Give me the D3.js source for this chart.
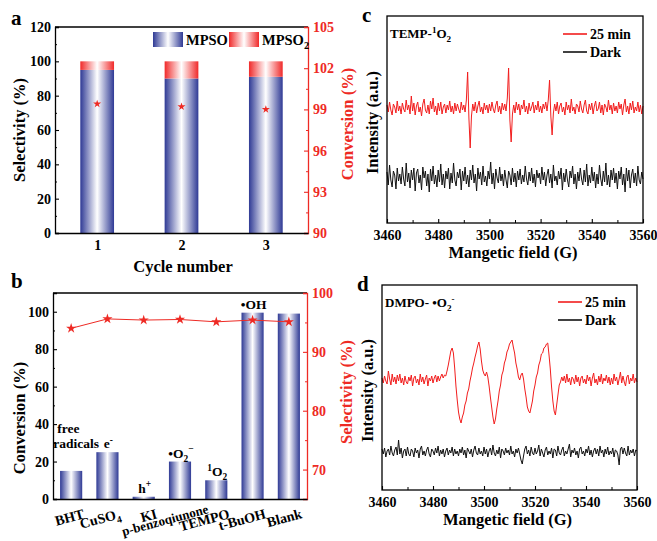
<!DOCTYPE html>
<html>
<head>
<meta charset="utf-8">
<script src="https://cdn.jsdelivr.net/npm/d3@7"></script>
<style>
  body { margin: 0; background: #fff; }
  svg { display: block; }
</style>
</head>
<body>
<svg id="chart" width="657" height="541"></svg>
<script>
// ---- Data ----

// a: recycling test
const cycles = [1, 2, 3];
const mpso = [95, 90, 91];          // selectivity to MPSO (%)
const mpso2 = [5, 10, 9];           // selectivity to MPSO2 (%)
const cycleConversion = [99.4, 99.2, 99.0];

// b: scavenger test
const scavengers = ["BHT", "CuSO_{4}", "KI", "p-benzoqiunone", "TEMPO", "t-BuOH", "Blank"];
const species = ["free|radicals", "e^{-}", "h^{+}", "•O_{2}^{−}", "^{1}O_{2}", "•OH", ""];
const scavConversion = [15, 25, 1.2, 20, 10, 99.5, 99];
const scavSelectivity = [94.0, 95.6, 95.4, 95.5, 95.1, 95.4, 95.1];

// c, d: EPR spectra, 3460 - 3560 G, equally spaced points (arb. units)
const fieldRange = [3460, 3560];
const fieldTicks = [3460, 3480, 3500, 3520, 3540, 3560];

const tempLight = [
  3,-4,6,-2,-7,4,1,-5,7,-3,2,-6,5,-1,-4,8,-2,3,-6,12,
  -3,5,-7,2,6,-4,1,-8,4,9,-2,-5,3,-6,7,-1,10,-4,2,-7,
  5,-3,6,-6,1,4,-5,3,-2,7,-4,2,-6,5,-3,4,-1,-5,6,-2,
  3,-4,8,36,-10,-40,-8,4,-3,6,-5,2,7,-4,1,-6,5,-2,3,-5,
  4,-3,6,-1,-5,3,7,-4,2,-6,5,-2,4,-3,10,40,-12,-34,-6,3,
  -5,6,-2,4,-7,3,-1,8,-4,2,-6,5,-3,1,6,-5,3,-2,7,-4,
  2,-5,4,-1,6,-3,8,28,-8,-27,-5,4,-3,6,-6,2,5,-4,1,-7,
  6,-2,3,-5,9,-3,1,-6,4,2,-4,7,-1,-5,3,8,-3,-6,4,-2,
  5,-6,2,7,-3,-1,6,-5,3,-7,4,1,-4,8,-2,3,-6,5,-3,2,
  -5,6,-1,4,-7,3,9,-4,2,-6,5,-2,7,-5,1,-3,6,-4,3,-6,
  2
];
const tempDark = [
  5,-8,12,-3,-10,6,2,-12,9,-4,3,-7,10,-2,-9,14,-5,4,-11,7,
  -3,9,-14,4,8,-6,2,-13,10,-1,6,-9,3,-15,8,-4,11,-7,2,-10,
  7,-5,13,-8,3,-11,6,-2,9,-12,4,-6,14,-3,-9,5,-1,8,-13,6,
  -4,10,-7,2,-10,7,-3,12,-6,3,-14,9,-2,5,-8,11,-5,1,-9,6,
  -2,15,-7,4,-12,8,-1,-6,10,-4,3,-9,7,-3,-11,6,2,-8,9,-5,
  4,-10,6,-3,8,-7,2,-5,11,-2,-8,5,-4,9,-6,3,-10,7,-1,4,
  -7,10,-3,5,-9,2,8,-6,3,-11,12,-4,1,-8,6,-2,9,-13,4,-5,
  8,-3,-10,6,-1,11,-7,3,-12,5,-4,9,-2,-8,7,-5,13,-9,2,-6,
  10,-4,5,-11,3,-7,12,-2,-9,6,-5,14,-8,2,-10,7,-3,9,-6,4,
  -12,6,-2,10,-8,3,-15,9,-4,7,-11,2,8,-6,4,-9,11,-3,-7,5,
  -2
];
const dmpoLight = [
  2,-3,4,-1,-4,9,1,-5,6,-2,3,-4,5,-1,6,-3,2,-5,4,-2,
  -4,3,-1,5,-6,2,4,-3,1,-5,6,-2,3,-4,1,5,-6,2,-1,4,
  -3,2,5,-2,4,-1,3,6,2,5,4,9,15,22,29,32,27,12,-6,-20,
  -32,-39,-43,-37,-33,-25,-21,-13,-9,-1,5,12,17,23,28,34,38,31,19,10,
  6,4,8,3,-6,-17,-27,-37,-44,-39,-29,-21,-11,-5,5,9,17,21,28,31,
  36,38,40,33,27,17,11,3,0,5,7,1,-9,-17,-27,-31,-33,-27,-21,-11,
  -5,3,7,15,19,26,27,32,33,36,37,25,11,-7,-21,-31,-35,-25,-15,-5,
  -2,3,-1,4,-3,6,-2,2,-5,3,1,-4,5,-2,3,-6,2,4,-3,1,
  -4,5,-1,3,-6,2,7,-3,1,-5,4,-2,6,-4,2,-1,5,-3,3,-5,
  2,-4,6,-1,3,-5,1,8,-3,4,-2,-6,3,5,-4,2,-1,6,-3,2,
  -2
];
const dmpoDark = [
  3,-2,4,-5,1,3,-3,6,-1,-4,2,5,-3,12,-2,4,-6,1,3,-4,
  5,-2,-4,3,1,-5,4,-1,2,-6,3,6,-3,1,-4,2,5,-2,-5,3,
  1,-3,4,-1,6,-4,2,-2,3,-5,1,4,-3,2,-1,5,-4,3,-2,1,
  -4,3,-1,5,-3,2,-6,4,1,-2,3,-5,2,6,-1,-3,4,-2,1,-4,
  5,-2,3,-5,1,4,-3,7,-1,-4,2,-2,5,-6,3,1,-3,4,-1,2,
  -3,6,-2,1,-5,3,-1,4,-2,-8,-12,-4,3,6,-2,2,-4,5,-1,-3,
  4,-2,1,7,-4,3,-1,-5,2,5,-3,1,-2,4,-6,3,2,-4,6,-1,
  -3,2,5,-4,1,-2,3,8,-5,2,-1,4,-3,1,-6,3,5,-2,1,-4,
  3,-1,6,-3,2,-5,1,4,-2,3,-4,6,-1,2,-5,3,-2,5,-3,1,
  -2,4,-5,2,1,-3,-13,3,5,-2,4,-1,-4,6,-3,2,-1,3,-4,2,
  1
];
const darkOffsetC = -69;   // vertical stacking of the dark trace
const darkOffsetD = -72;

// ---- Setup ----
const FONT = "'Liberation Serif', 'Times New Roman', serif";
const RED = "#ee2a24";
const BLUE = "#2f3a95";
const TICK_FS = 14;

const svg = d3.select("#chart")
    .attr("font-family", FONT)
    .attr("font-weight", "bold");

const defs = svg.append("defs");

// horizontal "cylinder" gradient used by the bars
function barGradient(id, color) {
    let grad = defs.append("linearGradient").attr("id", id)
        .attr("x1", "0").attr("x2", "1").attr("y1", "0").attr("y2", "0");
    grad.append("stop").attr("offset", "0%").attr("stop-color", color);
    grad.append("stop").attr("offset", "50%").attr("stop-color", "#ffffff");
    grad.append("stop").attr("offset", "100%").attr("stop-color", color);
}
barGradient("gradBlue", BLUE);
barGradient("gradRed", "#f02a2a");

// text with _{sub} and ^{sup} parts
function rich(text, str, fs) {
    let parts = str.match(/[_^]\{[^}]*\}|[^_^]+/g);
    let shift = 0;
    parts.forEach(p => {
        let target = 0, size = fs, content = p;
        if (p[0] === "_") { target = fs * 0.3; size = fs * 0.7; content = p.slice(2, -1); }
        else if (p[0] === "^") { target = -fs * 0.4; size = fs * 0.7; content = p.slice(2, -1); }
        text.append("tspan")
            .attr("dy", target - shift)
            .attr("font-size", size)
            .text(content);
        shift = target;
    });
    return text;
}

function styleAxis(g, color) {
    g.attr("font-family", FONT).attr("font-size", TICK_FS).attr("font-weight", "bold");
    g.select(".domain").attr("stroke", color).attr("stroke-width", 1.3);
    g.selectAll(".tick line").attr("stroke", color).attr("stroke-width", 1.1);
    g.selectAll(".tick text").attr("fill", color);
}

function minorTicks(axisFn, scale, values, size, x, y, color) {
    let g = svg.append("g")
        .attr("transform", "translate(" + x + "," + y + ")")
        .call(axisFn(scale).tickValues(values).tickSize(size).tickFormat(""));
    g.select(".domain").remove();
    g.selectAll(".tick line").attr("stroke", color).attr("stroke-width", 1);
}

function panelLetter(x, y, s) {
    svg.append("text").attr("x", x).attr("y", y)
        .attr("font-size", 21).text(s);
}

function vTitle(x, y, s, color) {
    svg.append("text")
        .attr("transform", "translate(" + x + "," + y + ") rotate(-90)")
        .attr("text-anchor", "middle")
        .attr("font-size", 16.5)
        .attr("fill", color)
        .text(s);
}

// ---- Panel a ----
{
    const L = 55, R = 308, T = 27, B = 233;
    const x = d3.scaleLinear().domain([0.5, 3.5]).range([L, R]);
    const y = d3.scaleLinear().domain([0, 120]).range([B, T]);
    const y2 = d3.scaleLinear().domain([90, 105]).range([B, T]);
    const bw = 0.4 * (x(2) - x(1));

    // stacked bars
    svg.append("g").selectAll("rect")
        .data(cycles)
        .enter().append("rect")
        .attr("x", d => x(d) - bw / 2)
        .attr("width", bw)
        .attr("y", (d, i) => y(mpso[i]))
        .attr("height", (d, i) => B - y(mpso[i]))
        .attr("fill", "url(#gradBlue)");
    svg.append("g").selectAll("rect")
        .data(cycles)
        .enter().append("rect")
        .attr("x", d => x(d) - bw / 2)
        .attr("width", bw)
        .attr("y", (d, i) => y(mpso[i] + mpso2[i]))
        .attr("height", (d, i) => y(mpso[i]) - y(mpso[i] + mpso2[i]))
        .attr("fill", "url(#gradRed)");

    // conversion stars
    svg.append("g").selectAll("path")
        .data(cycles)
        .enter().append("path")
        .attr("d", d3.symbol().type(d3.symbolStar).size(20))
        .attr("transform", (d, i) => "translate(" + x(d) + "," + y2(cycleConversion[i]) + ")")
        .attr("fill", RED);

    // axes
    svg.append("line").attr("x1", L).attr("x2", R).attr("y1", T).attr("y2", T)
        .attr("stroke", "#000").attr("stroke-width", 1.3);
    let gl = svg.append("g").attr("transform", "translate(" + L + ",0)")
        .call(d3.axisLeft(y).tickValues(d3.range(0, 121, 20)).tickSize(-4).tickPadding(4));
    styleAxis(gl, "#000");
    minorTicks(d3.axisLeft, y, d3.range(10, 120, 20), -2, L, 0, "#000");
    let gr = svg.append("g").attr("transform", "translate(" + R + ",0)")
        .call(d3.axisRight(y2).tickValues([90, 93, 96, 99, 102, 105]).tickSize(-4).tickPadding(5));
    styleAxis(gr, RED);
    minorTicks(d3.axisRight, y2, [91.5, 94.5, 97.5, 100.5, 103.5], -2, R, 0, RED);
    let gb = svg.append("g").attr("transform", "translate(0," + B + ")")
        .call(d3.axisBottom(x).tickValues(cycles).tickFormat(d3.format("d"))
            .tickSize(0).tickPadding(7));
    styleAxis(gb, "#000");

    // legend
    svg.append("rect").attr("x", 153).attr("y", 32).attr("width", 30).attr("height", 15)
        .attr("fill", "url(#gradBlue)");
    svg.append("text").attr("x", 186).attr("y", 45).attr("font-size", 14.5).text("MPSO");
    svg.append("rect").attr("x", 229).attr("y", 32).attr("width", 30).attr("height", 15)
        .attr("fill", "url(#gradRed)");
    rich(svg.append("text").attr("x", 262).attr("y", 45), "MPSO_{2}", 14.5);

    vTitle(25, 130, "Selectivity (%)", "#000");
    vTitle(353, 124, "Conversion (%)", RED);
    svg.append("text").attr("x", 183).attr("y", 272).attr("text-anchor", "middle")
        .attr("font-size", 16.5).text("Cycle number");
    panelLetter(11, 25, "a");
}

// ---- Panel b ----
{
    const L = 53, R = 307, T = 293, B = 499;
    const x = d3.scaleBand().domain(scavengers).range([L, R])
        .paddingInner(0.39).paddingOuter(0.195);
    const y = d3.scaleLinear().domain([0, 110]).range([B, T]);
    const y2 = d3.scaleLinear().domain([65, 100]).range([B, T]);
    const cx = d => x(d) + x.bandwidth() / 2;

    svg.append("g").selectAll("rect")
        .data(scavengers)
        .enter().append("rect")
        .attr("x", d => x(d))
        .attr("width", x.bandwidth())
        .attr("y", (d, i) => y(scavConversion[i]))
        .attr("height", (d, i) => B - y(scavConversion[i]))
        .attr("fill", "url(#gradBlue)");

    // selectivity line + stars
    let line = d3.line()
        .x((d, i) => cx(scavengers[i]))
        .y(d => y2(d));
    svg.append("path").datum(scavSelectivity)
        .attr("d", line).attr("fill", "none").attr("stroke", RED).attr("stroke-width", 1);
    svg.append("g").selectAll("path")
        .data(scavSelectivity)
        .enter().append("path")
        .attr("d", d3.symbol().type(d3.symbolStar).size(32))
        .attr("transform", (d, i) => "translate(" + cx(scavengers[i]) + "," + y2(d) + ")")
        .attr("fill", RED);

    // active species labels above bars
    species.forEach((s, i) => {
        if (!s) return;
        let top = y(scavConversion[i]);
        if (s.includes("|")) {
            let lines = s.split("|");
            svg.append("text").attr("x", cx(scavengers[i]) - 14).attr("y", top - 38)
                .attr("font-size", 13.5).text(lines[0]);
            svg.append("text").attr("x", cx(scavengers[i]) - 18).attr("y", top - 23)
                .attr("font-size", 13.5).text(lines[1]);
        } else {
            rich(svg.append("text").attr("x", cx(scavengers[i]) + 1).attr("y", top - 4)
                .attr("text-anchor", "middle"), s, 13.5);
        }
    });

    // axes
    svg.append("line").attr("x1", L).attr("x2", R).attr("y1", T).attr("y2", T)
        .attr("stroke", "#000").attr("stroke-width", 1.3);
    let gl = svg.append("g").attr("transform", "translate(" + L + ",0)")
        .call(d3.axisLeft(y).tickValues(d3.range(0, 101, 20)).tickSize(-4).tickPadding(4));
    styleAxis(gl, "#000");
    minorTicks(d3.axisLeft, y, d3.range(10, 100, 20), -2, L, 0, "#000");
    let gr = svg.append("g").attr("transform", "translate(" + R + ",0)")
        .call(d3.axisRight(y2).tickValues([70, 80, 90, 100]).tickSize(-4).tickPadding(5));
    styleAxis(gr, RED);
    minorTicks(d3.axisRight, y2, [75, 85, 95], -2, R, 0, RED);
    let gb = svg.append("g").attr("transform", "translate(0," + B + ")")
        .call(d3.axisBottom(x).tickSize(0).tickFormat(""));
    styleAxis(gb, "#000");

    // tilted category labels
    scavengers.forEach((s, i) => {
        let long = s.length > 10;
        let lx = cx(s) + (long ? 29 : 14);
        let ly = long ? 513 : 518;
        rich(svg.append("text")
            .attr("text-anchor", "end")
            .attr("transform", "translate(" + lx + "," + ly + ") rotate(-15)"), s, long ? 13 : 14);
    });

    vTitle(25, 418, "Conversion (%)", "#000");
    vTitle(352, 392, "Selectivity (%)", RED);
    panelLetter(11, 288, "b");
}

// ---- EPR panels ----
function eprPanel(o) {
    const x = d3.scaleLinear().domain(fieldRange).range([o.L, o.R]);
    const y = d3.scaleLinear().domain(o.yDomain).range([o.B, o.T]);
    const n = o.light.length;
    const field = i => fieldRange[0] + i * (fieldRange[1] - fieldRange[0]) / (n - 1);

    let line = d3.line().x((d, i) => x(field(i))).y(d => y(d));
    svg.append("path").datum(o.dark.map(v => v + o.darkOffset))
        .attr("d", line).attr("fill", "none").attr("stroke", "#111").attr("stroke-width", 1);
    svg.append("path").datum(o.light)
        .attr("d", line).attr("fill", "none").attr("stroke", "#f21d1d").attr("stroke-width", 1);

    svg.append("rect").attr("x", o.L).attr("y", o.T)
        .attr("width", o.R - o.L).attr("height", o.B - o.T)
        .attr("fill", "none").attr("stroke", "#000").attr("stroke-width", 1.3);
    let gb = svg.append("g").attr("transform", "translate(0," + o.B + ")")
        .call(d3.axisBottom(x).tickValues(fieldTicks).tickFormat(d3.format("d"))
            .tickSize(-4).tickPadding(7));
    styleAxis(gb, "#000");
    gb.select(".domain").remove();
    minorTicks(d3.axisBottom, x, d3.range(3470, 3560, 20), -3, 0, o.B, "#000");

    // legend
    svg.append("line").attr("x1", o.legX).attr("x2", o.legX + 24)
        .attr("y1", o.legY).attr("y2", o.legY).attr("stroke", "#f21d1d").attr("stroke-width", 1.6);
    svg.append("text").attr("x", o.legX + 27).attr("y", o.legY + 5).attr("font-size", 14).text("25 min");
    svg.append("line").attr("x1", o.legX).attr("x2", o.legX + 24)
        .attr("y1", o.legY + 18).attr("y2", o.legY + 18).attr("stroke", "#111").attr("stroke-width", 1.6);
    svg.append("text").attr("x", o.legX + 27).attr("y", o.legY + 23).attr("font-size", 14).text("Dark");

    rich(svg.append("text").attr("x", o.L + 3).attr("y", o.titleY), o.title, 13);
    vTitle(o.L - 9, (o.T + o.B) / 2 + 3, "Intensity (a.u.)", "#000");
    svg.append("text").attr("x", (o.L + o.R) / 2 - 2).attr("y", o.B + 35)
        .attr("text-anchor", "middle").attr("font-size", 16.5).text("Mangetic field (G)");
    panelLetter(o.L - 25, o.T + 6, o.letter);
}

eprPanel({
    L: 387, R: 643, T: 16, B: 223, yDomain: [-115, 92],
    light: tempLight, dark: tempDark, darkOffset: darkOffsetC,
    legX: 563, legY: 34, title: "TEMP-^{1}O_{2}", titleY: 38, letter: "c"
});
eprPanel({
    L: 382, R: 637, T: 285, B: 490, yDomain: [-110, 95],
    light: dmpoLight, dark: dmpoDark, darkOffset: darkOffsetD,
    legX: 558, legY: 302, title: "DMPO- •O_{2}^{-}", titleY: 307, letter: "d"
});
</script>
</body>
</html>
